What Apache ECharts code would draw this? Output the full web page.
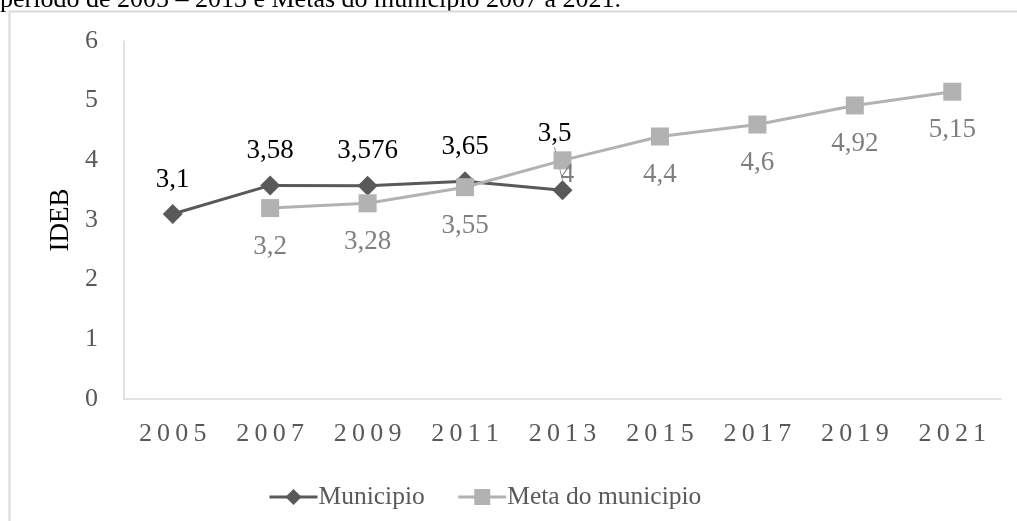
<!DOCTYPE html>
<html>
<head>
	<meta charset="utf-8" />
	<title>IDEB</title>
	<script type="text/javascript" src="https://cdn.jsdelivr.net/npm/echarts@6/dist/echarts.min.js"></script>
	<style>
		html, body {margin:0;padding:0;background:#fff;}
		#chart {width:1017px;height:521px;}
	</style>
</head>
<body>
	<div id="chart"></div>
	<script>
		var anos = ['2005', '2007', '2009', '2011', '2013', '2015', '2017', '2019', '2021'];
		var municipio = [3.1, 3.58, 3.576, 3.65, 3.5, '-', '-', '-', '-'];		// IDEB observado
		var meta = ['-', 3.2, 3.28, 3.55, 4, 4.4, 4.6, 4.92, 5.15];				// metas
		var yTicks = [0, 1, 2, 3, 4, 5, 6];

		var fonte = "'Liberation Serif', 'Times New Roman', serif";

		function virgula(p) {
			return String(p.value).replace('.', ',');
		}

		var chart = echarts.init(document.getElementById('chart'));

		var option = {
			textStyle: {
				fontFamily: fonte
			},
			animation: false,
			graphic: [
				{
					type: 'text',
					left: 0,
					top: -13,
					style: {
						text: 'período de 2005 – 2013 e Metas do município 2007 a 2021.',
						fontFamily: fonte,
						fontSize: 26,
						fill: '#000'
					}
				},
				{
					type: 'rect',
					shape: {x: 9.5, y: 11.5, width: 1030, height: 530},
					style: {fill: null, stroke: '#d9d9d9', lineWidth: 2}
				}
			],
			grid: {
				left: 124,
				right: 16,
				top: 41,
				bottom: 122
			},
			legend: {
				left: 263,
				top: 479,
				itemWidth: 48,
				itemHeight: 20,
				itemGap: 32,
				lineStyle: {width: 3},
				textStyle: {
					fontFamily: fonte,
					fontSize: 25.5,
					color: '#595959',
					padding: [0, 0, 0, -4]
				},
				data: ['Municipio', 'Meta do municipio']
			},
			xAxis: {
				type: 'category',
				data: anos,
				axisLine: {lineStyle: {color: '#d9d9d9', width: 1.5}},
				axisTick: {show: false},
				axisLabel: {
					margin: 22,
					fontSize: 26,
					color: '#595959',
					formatter: v => v.split('').join('\u2009')
				}
			},
			yAxis: {
				type: 'value',
				min: yTicks[0],
				max: yTicks[yTicks.length - 1],
				interval: 1,
				name: 'IDEB',
				nameLocation: 'middle',
				nameRotate: 90,
				nameGap: 50,
				nameTextStyle: {fontSize: 27, color: '#000', fontFamily: fonte},
				axisLine: {show: true, lineStyle: {color: '#d9d9d9', width: 1.5}},
				axisTick: {show: false},
				splitLine: {show: false},
				axisLabel: {
					margin: 26,
					fontSize: 26,
					color: '#595959'
				}
			},
			series: [
				{
					name: 'Municipio',
					type: 'line',
					symbol: 'diamond',
					symbolSize: 20,
					itemStyle: {color: '#595959'},
					lineStyle: {color: '#595959', width: 3},
					label: {
						show: true,
						position: 'top',
						distance: 11,
						fontSize: 27,
						color: '#000',
						formatter: virgula
					},
					labelLayout: p => p.dataIndex === 4 ? {dx: -8, dy: -22} : {},
					data: municipio.map((v, i) => i === 4 ? {value: v, labelLine: {show: true, lineStyle: {color: '#8c8c8c', width: 1}}} : v)
				},
				{
					name: 'Meta do municipio',
					type: 'line',
					symbol: 'rect',
					symbolSize: 18,
					itemStyle: {color: '#b2b2b2'},
					lineStyle: {color: '#b2b2b2', width: 3},
					label: {
						show: true,
						position: 'bottom',
						distance: 16,
						fontSize: 27,
						color: '#7f7f7f',
						formatter: virgula
					},
					labelLayout: p => p.dataIndex === 4 ? {dx: 5, dy: -24} : {},
					data: meta
				}
			]
		};

		chart.setOption(option);
	</script>
</body>
</html>
